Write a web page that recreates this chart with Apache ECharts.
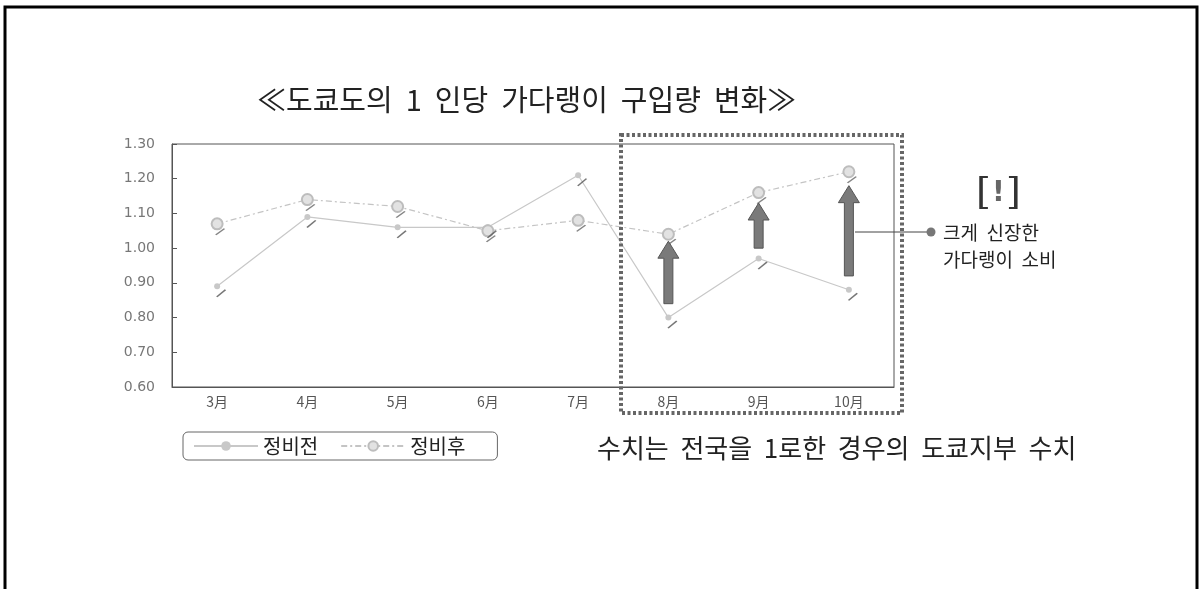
<!DOCTYPE html>
<html>
<head>
<meta charset="utf-8">
<script src="https://cdn.jsdelivr.net/npm/echarts@6/dist/echarts.min.js"></script>
<style>
  html, body { margin: 0; padding: 0; background: #fff; }
  #main { width: 1202px; height: 589px; }
</style>
</head>
<body>
<div id="main"></div>
<script>
// 월
var months = ['3月', '4月', '5月', '6月', '7月', '8月', '9月', '10月'];
// 정비전 / 정비후 (전국 = 1)
var before = [0.89, 1.09, 1.06, 1.06, 1.21, 0.80, 0.97, 0.88];
var after = [1.07, 1.14, 1.12, 1.05, 1.08, 1.04, 1.16, 1.22];
// 화살표: [월 index, 시작, 끝]
var arrows = [[5, 0.84, 1.02], [6, 1.00, 1.13], [7, 0.92, 1.18]];

var font = '"Noto Sans CJK KR", "Noto Sans", sans-serif';
var slash = 'path://M0,10 L10,0 L11.5,1.2 L1.5,11.2 Z';

var myChart = echarts.init(document.getElementById('main'));

var option = {
    backgroundColor: '#fff',
    animation: false,
    title: {
        text: '≪도쿄도의  1  인당  가다랭이  구입량  변화≫',
        left: 252,
        top: 80,
        textStyle: { fontFamily: font, fontSize: 29, fontWeight: 'normal', color: '#222' }
    },
    legend: {
        data: ['정비전', '정비후'],
        left: 183,
        top: 432,
        padding: [4, 32, 4, 10],
        itemGap: 22,
        itemWidth: 64,
        itemHeight: 12,
        borderColor: '#666',
        borderWidth: 1,
        borderRadius: 5,
        textStyle: { fontFamily: font, fontSize: 20, color: '#222' }
    },
    grid: {
        left: 172,
        right: 308,
        top: 144,
        bottom: 202,
        show: true,
        borderColor: '#555',
        borderWidth: 1
    },
    xAxis: {
        type: 'category',
        data: months,
        boundaryGap: true,
        axisLine: { lineStyle: { color: '#555' } },
        axisTick: { inside: true, length: 5, lineStyle: { color: '#555' } },
        axisLabel: { color: '#555', fontSize: 14, margin: 8, fontFamily: font }
    },
    yAxis: {
        type: 'value',
        min: 0.6,
        max: 1.3,
        interval: 0.1,
        splitLine: { show: false },
        axisLine: { show: true, lineStyle: { color: '#555' } },
        axisTick: { show: true, inside: true, length: 5, lineStyle: { color: '#555' } },
        axisLabel: {
            color: '#777', fontSize: 14, margin: 17, fontFamily: 'DejaVu Sans',
            formatter: function (v) { return v.toFixed(2); }
        }
    },
    series: [
        {
            name: '정비전',
            type: 'line',
            data: before,
            symbol: 'circle',
            symbolSize: 6,
            itemStyle: { color: '#c8c8c8' },
            lineStyle: { color: '#c8c8c8', width: 1.2 },
            z: 3
        },
        {
            name: '정비후',
            type: 'line',
            data: after,
            symbol: 'circle',
            symbolSize: 11,
            itemStyle: { color: '#e2e2e2', borderColor: '#bdbdbd', borderWidth: 2 },
            lineStyle: { color: '#c4c4c4', width: 1.2, type: [6, 3, 2, 3] },
            z: 3
        },
        {
            name: 'slash1',
            type: 'scatter',
            data: before,
            symbol: slash,
            symbolSize: [10, 8],
            symbolOffset: [4, 7],
            itemStyle: { color: '#555' },
            z: 4
        },
        {
            name: 'slash2',
            type: 'scatter',
            data: after,
            symbol: slash,
            symbolSize: [10, 7],
            symbolOffset: [3, 8],
            itemStyle: { color: '#666' },
            z: 4
        },
        {
            name: 'arrows',
            type: 'custom',
            data: arrows,
            encode: { x: 0, y: [1, 2] },
            renderItem: function (params, api) {
                var xi = api.value(0);
                var p0 = api.coord([xi, api.value(1)]);
                var p1 = api.coord([xi, api.value(2)]);
                var x = p0[0], yb = p0[1], yt = p1[1];
                var sw = 4.5, hw = 10.5, hh = 17;
                return {
                    type: 'polygon',
                    shape: {
                        points: [
                            [x - sw, yb], [x - sw, yt + hh], [x - hw, yt + hh],
                            [x, yt], [x + hw, yt + hh], [x + sw, yt + hh], [x + sw, yb]
                        ]
                    },
                    style: { fill: '#7a7a7a', stroke: '#555', lineWidth: 1 }
                };
            },
            z: 5
        }
    ],
    graphic: [
        {
            type: 'rect',
            shape: { x: 5, y: 7, width: 1192, height: 640 },
            style: { fill: 'none', stroke: '#000', lineWidth: 3 },
            silent: true
        },
        {
            type: 'rect',
            shape: { x: 621, y: 135, width: 281, height: 278 },
            style: { fill: 'none', stroke: '#666', lineWidth: 4, lineDash: [3, 2.5] },
            z: 10
        },
        {
            type: 'line',
            shape: { x1: 855, y1: 232, x2: 930, y2: 232 },
            style: { stroke: '#444', lineWidth: 1 },
            z: 10
        },
        {
            type: 'circle',
            shape: { cx: 931, cy: 232, r: 4.5 },
            style: { fill: '#777' },
            z: 10
        },
        {
            type: 'text',
            left: 943,
            top: 219,
            style: { text: '크게  신장한\n가다랭이  소비', fontFamily: font, fontSize: 19, lineHeight: 27, fill: '#222' },
            z: 10
        },
        {
            type: 'text',
            left: 976,
            top: 175,
            style: { text: '[', fontFamily: 'DejaVu Serif', fontSize: 38, fill: '#333' },
            z: 10
        },
        {
            type: 'text',
            left: 992,
            top: 180,
            style: { text: '!', fontFamily: 'DejaVu Sans', fontWeight: 'bold', fontSize: 28, fill: '#666' },
            z: 10
        },
        {
            type: 'text',
            left: 1006,
            top: 175,
            style: { text: ']', fontFamily: 'DejaVu Serif', fontSize: 38, fill: '#333' },
            z: 10
        },
        {
            type: 'text',
            left: 597,
            top: 435,
            style: { text: '수치는  전국을  1로한  경우의  도쿄지부  수치', fontFamily: font, fontSize: 26, fill: '#222' },
            z: 10
        }
    ]
};

myChart.setOption(option);
</script>
</body>
</html>
